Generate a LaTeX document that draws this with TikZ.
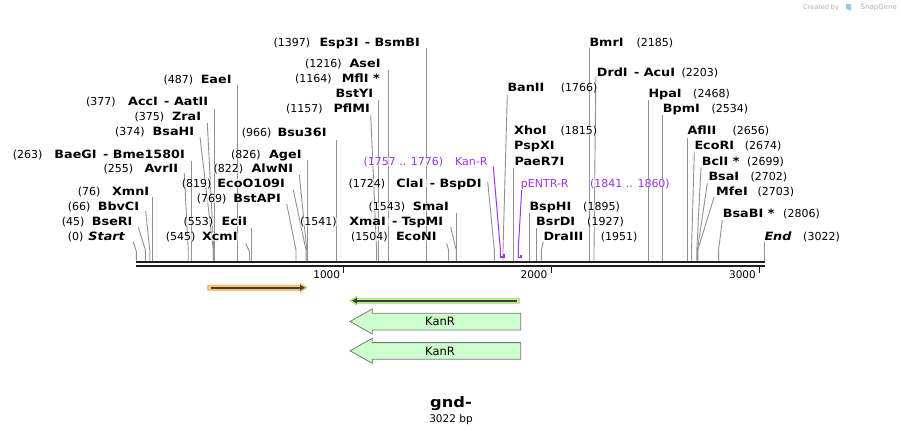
\documentclass[tikz,border=0pt]{standalone}
\usepackage{fontspec}
\setmainfont{DejaVu Sans}[BoldFeatures={FakeStretch=1.12},BoldItalicFeatures={FakeStretch=1.12}]
\usetikzlibrary{arrows.meta}
\definecolor{leadc}{RGB}{145,145,145}
\definecolor{primer}{RGB}{160,50,240}
\definecolor{bbc}{RGB}{30,30,30}
\definecolor{featfill}{RGB}{204,255,204}
\definecolor{featdraw}{RGB}{120,120,120}
\definecolor{orfill}{RGB}{250,200,120}
\definecolor{ordraw}{RGB}{240,170,70}
\definecolor{grfill}{RGB}{185,240,150}
\definecolor{grdraw}{RGB}{150,220,110}
\definecolor{arrc}{RGB}{65,62,55}
\definecolor{wmark}{RGB}{175,175,175}
\definecolor{logoc}{RGB}{150,200,235}
\newcommand\LL[6]{\node[numlab,anchor=west] (#1n) at (#4,#6) {#2};\node[namelab,anchor=east] (#1) at (#5,#6) {#3};}
\newcommand\RL[6]{\node[namelab,anchor=west] (#1) at (#4,#6) {#2};\node[numlab,anchor=east] (#1n) at (#5,#6) {#3};}
\newcommand\Ldr[4]{\draw[leader] (#1,#2) -- (#3,#4) -- (#3,260.6);}
\begin{document}
\begin{tikzpicture}[x=1pt,y=-1pt,
  lab/.style={inner sep=0pt, text height=8pt, text depth=0pt, fill=white, fill opacity=0.6, text opacity=1},
  numlab/.style={lab, font=\fontsize{11}{13}\selectfont},
  namelab/.style={lab, font=\fontsize{11.4}{13}\selectfont\bfseries},
  leader/.style={draw=leadc, line width=0.9pt},
  primerline/.style={draw=primer, line width=1pt},
  bracket/.style={draw=primer, line width=1.6pt},
  backbone/.style={draw=bbc, line width=2.3pt},
  tick/.style={draw=bbc, line width=1.4pt},
  ticklab/.style={font=\fontsize{10.5}{12}\selectfont, inner sep=0pt, anchor=east},
  featarrow/.style={fill=featfill, draw=featdraw, line width=0.8pt},
  featlab/.style={font=\fontsize{11.5}{13}\selectfont, inner sep=0pt}
]
\useasboundingbox (0,0) rectangle (901,435);

% ---------- leader lines ----------
\Ldr{133.3}{242}{136.3}{251}
\Ldr{138.3}{227.3}{145.4}{250}
\Ldr{145.7}{211}{149.7}{250}
\Ldr{152.2}{197}{152.2}{250}
\Ldr{184.3}{173.3}{188.2}{250}
\Ldr{191.2}{160.7}{191.2}{250}
\Ldr{200}{137}{213.3}{250}
\Ldr{207.3}{123}{213.8}{250}
\Ldr{214.3}{109}{214.3}{250}
\Ldr{237.3}{85}{237.3}{250}
\Ldr{245.7}{243.3}{249.5}{251.7}
\Ldr{251.1}{228.3}{251.1}{250}
\Ldr{286.7}{204}{296}{250}
\Ldr{293.3}{190}{306}{250}
\Ldr{299.3}{175}{306.8}{250}
\Ldr{307.6}{160}{307.6}{250}
\Ldr{336.8}{140}{336.8}{250}
\Ldr{370.7}{115}{376.6}{250}
\Ldr{378.4}{100}{378.4}{250}
\Ldr{388.6}{70}{388.6}{250}
\Ldr{426.7}{48}{426.7}{250}
\Ldr{446.7}{243.3}{448.5}{250}
\Ldr{450.7}{227}{456.2}{250}
\Ldr{456.8}{213}{456.8}{250}
\Ldr{487.7}{181.7}{494.3}{250}
\Ldr{507.3}{95}{503}{250}
\Ldr{513.3}{168}{513.3}{250}
\Ldr{529.6}{213.3}{529.6}{250}
\Ldr{536.2}{228}{536.2}{250}
\Ldr{543.3}{241.7}{541.3}{250}
\Ldr{589.6}{48}{589.6}{250}
\Ldr{595.8}{77}{594}{250}
\Ldr{648.6}{100}{648.6}{250}
\Ldr{662.5}{115}{662.5}{250}
\Ldr{687.7}{137.7}{687.7}{250}
\Ldr{694.3}{151.7}{691.5}{250}
\Ldr{701}{167.3}{696.8}{250}
\Ldr{707.3}{183.3}{697.4}{250}
\Ldr{714}{197.3}{697.8}{250}
\Ldr{722.3}{220}{718.6}{250}
\Ldr{764.5}{241.7}{764.5}{250}

% primer leaders and brackets
\draw[primerline] (493.3,166.7) -- (500.3,248.3) -- (500.3,257.3);
\draw[bracket] (500.3,254) -- (500.3,257.3) -- (504,257.3) -- (504,254.5);
\draw[primerline] (521.7,190) -- (518.3,248.3) -- (518.3,257.5);
\draw[bracket] (518.3,254) -- (518.3,257.5) -- (521,257.5) -- (521,255);

% ---------- backbone ----------
\coordinate (bbL1) at (136,261.7); \coordinate (bbR1) at (765,261.7);
\coordinate (bbL2) at (136,265.9); \coordinate (bbR2) at (765,265.9);
\draw[backbone] (bbL1) -- (bbR1);
\draw[backbone] (bbL2) -- (bbR2);
\coordinate (t1a) at (343.6,266.5); \coordinate (t1b) at (343.6,273.5);
\coordinate (t2a) at (551.6,266.5); \coordinate (t2b) at (551.6,273.5);
\coordinate (t3a) at (759.4,266.5); \coordinate (t3b) at (759.4,273.5);
\draw[tick] (t1a) -- (t1b);
\draw[tick] (t2a) -- (t2b);
\draw[tick] (t3a) -- (t3b);
\node[ticklab] (k1) at (340.3,274.5) {1000};
\node[ticklab] (k2) at (547.5,274.5) {2000};
\node[ticklab] (k3) at (756,274.5) {3000};

% ---------- left labels ----------
\LL{esp}{(1397)}{Esp3I\, - BsmBI}{273.3}{420}{42.3}
\LL{ase}{(1216)}{AseI}{305}{380.7}{63.3}
\LL{mfl}{(1164)}{MflI *}{295}{380}{78.3}
\node[namelab,anchor=east] (bsty) at (373.3,93.3) {BstYI};
\LL{pfl}{(1157)}{PflMI}{286}{370}{108.3}
\LL{eae}{(487)}{EaeI}{163.3}{231.7}{79.3}
\LL{acc}{(377)}{AccI\, - AatII}{86}{208.3}{101.7}
\LL{zra}{(375)}{ZraI}{134.3}{201.3}{116.7}
\LL{bsah}{(374)}{BsaHI}{115}{194.3}{131.7}
\LL{bsu}{(966)}{Bsu36I}{241.7}{326.7}{132.5}
\LL{bae}{(263)}{BaeGI\, - Bme1580I}{12.7}{185}{154.3}
\LL{avr}{(255)}{AvrII}{103.3}{178.3}{169}
\LL{age}{(826)}{AgeI}{231}{301.7}{154.3}
\LL{alw}{(822)}{AlwNI}{213.3}{293.3}{169}
\LL{eco}{(819)}{EcoO109I}{181.7}{285}{183.3}
\LL{xmn}{(76)}{XmnI}{77.7}{149.3}{191.7}
\LL{bsta}{(769)}{BstAPI}{196.7}{281}{199}
\LL{bbv}{(66)}{BbvCI}{67.7}{139.3}{206.7}
\LL{bser}{(45)}{BseRI}{61.7}{132.7}{221.7}
\LL{eci}{(553)}{EciI}{183.3}{247.3}{221.7}
\LL{start}{(0)}{\itshape Start}{67.7}{125}{236.7}
\LL{xcm}{(545)}{XcmI}{165.7}{237.7}{236.7}
\LL{cla}{(1724)}{ClaI\, - BspDI}{348.3}{481.7}{183.3}
\LL{sma}{(1543)}{SmaI}{368.3}{449}{206.7}
\LL{xma}{(1541)}{XmaI\, - TspMI}{300}{443.3}{221.7}
\LL{econi}{(1504)}{EcoNI}{351}{436.7}{236.7}
\node[numlab,text=primer,anchor=west] (kann) at (363.3,161.7) {(1757 .. 1776)};
\node[numlab,text=primer,anchor=east] (kan) at (487.7,161.7) {Kan-R};

% ---------- right labels ----------
\RL{bmr}{BmrI}{(2185)}{589.3}{673.3}{42.3}
\RL{drd}{DrdI\, - AcuI}{(2203)}{596.7}{718.3}{72.3}
\RL{ban}{BanII}{(1766)}{507.3}{597.7}{87.3}
\RL{hpa}{HpaI}{(2468)}{648.3}{730}{94}
\RL{bpm}{BpmI}{(2534)}{662.7}{748.3}{109}
\RL{xho}{XhoI}{(1815)}{514}{597.3}{130.7}
\RL{afl}{AflII}{(2656)}{687.3}{769.3}{130.7}
\node[namelab,anchor=west] (pspx) at (514,146) {PspXI};
\RL{ecori}{EcoRI}{(2674)}{694.3}{781.7}{146}
\node[namelab,anchor=west] (paer) at (514.3,161.7) {PaeR7I};
\RL{bcl}{BclI *}{(2699)}{701.7}{784}{161.7}
\RL{bsai}{BsaI}{(2702)}{708.3}{787.3}{176.7}
\RL{mfe}{MfeI}{(2703)}{716}{794.3}{191.7}
\RL{bsph}{BspHI}{(1895)}{529.3}{620}{206.7}
\RL{bsab}{BsaBI *}{(2806)}{722.7}{820}{213.3}
\RL{bsrd}{BsrDI}{(1927)}{536}{624}{221.7}
\RL{dra}{DraIII}{(1951)}{543.3}{637.7}{236.7}
\RL{end}{\itshape End}{(3022)}{764.3}{840}{236.7}
\node[numlab,text=primer,anchor=west] (pentr) at (520.7,183.3) {pENTR-R};
\node[numlab,text=primer,anchor=east] (pentrn) at (670,183.3) {(1841 .. 1860)};

% ---------- features ----------
\fill[orfill, draw=ordraw, line width=0.6pt] (207.7,285.1) -- (300.5,285.1) -- (300.5,283.6) -- (307,287.7) -- (300.5,291.8) -- (300.5,290.3) -- (207.7,290.3) -- cycle;
\coordinate (oa) at (210.5,287.7); \coordinate (ob) at (305,287.7);
\draw[arrc, line width=1.8pt, -{Triangle[length=5pt,width=5.5pt]}] (oa) -- (ob);

\fill[grfill, draw=grdraw, line width=0.6pt] (519.3,298.1) -- (356.5,298.1) -- (356.5,296.6) -- (350,300.7) -- (356.5,304.8) -- (356.5,303.3) -- (519.3,303.3) -- cycle;
\coordinate (ga) at (516.7,300.7); \coordinate (gb) at (352,300.7);
\draw[arrc, line width=1.8pt, -{Triangle[length=5pt,width=5.5pt]}] (ga) -- (gb);

\draw[featarrow] (520.7,313.3) -- (372.3,313.3) -- (372.3,309) -- (350,321.5) -- (372.3,334) -- (372.3,330) -- (520.7,330) -- cycle;
\node[featlab] (kanr1) at (440,321.8) {KanR};
\draw[featarrow] (520.7,342.6) -- (372.3,342.6) -- (372.3,338.3) -- (350,350.8) -- (372.3,363.3) -- (372.3,359.2) -- (520.7,359.2) -- cycle;
\node[featlab] (kanr2) at (440,351.1) {KanR};

% ---------- title ----------
\node[font=\fontsize{14.5}{16}\selectfont\bfseries, inner sep=0pt] (title) at (451,404) {gnd-};
\node[font=\fontsize{10.5}{12}\selectfont, inner sep=0pt] (bp) at (451,419.5) {3022 bp};

% ---------- watermark ----------
\node[font=\fontsize{6.5}{8}\selectfont, text=wmark, inner sep=0pt, anchor=west] (cb) at (803,7.5) {Created by};
\node[font=\fontsize{7}{8}\selectfont, text=wmark, inner sep=0pt, anchor=east] (sg) at (897,7.5) {SnapGene};
\fill[logoc] (846,4) -- (851,4) -- (851,11) -- (846,8.5) -- cycle;
\end{tikzpicture}
\end{document}
